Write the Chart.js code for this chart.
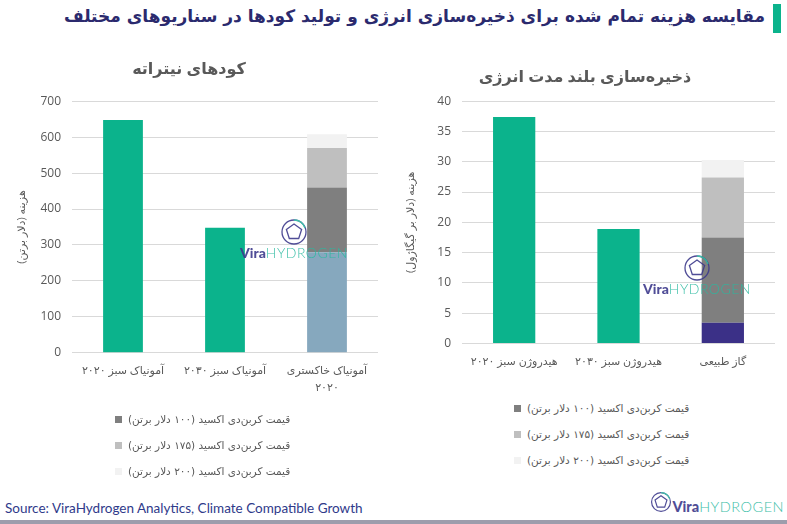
<!DOCTYPE html>
<html lang="fa">
<head>
<meta charset="utf-8">
<script src="https://cdn.jsdelivr.net/npm/chart.js@4.4.1/dist/chart.umd.min.js"></script>
<style>
  body { margin: 0; width: 787px; height: 524px; background: #fff; position: relative; overflow: hidden; font-family: 'DejaVu Sans', sans-serif; }
  #title { position: absolute; right: 22px; top: 6px; font-size: 17px; font-weight: bold; color: #2b2a6e; white-space: nowrap; }
  #accent { position: absolute; left: 773px; top: 4px; width: 8px; height: 29px; background: #0bb38c; }
  .wrap { position: absolute; }
  .legend { position: absolute; font-size: 10.5px; color: #595959; }
  .lg-row { display: flex; align-items: center; height: 26px; }
  .lg-box { width: 7px; height: 7px; margin-right: 6px; display: inline-block; }
  .mark { position: absolute; display: flex; flex-direction: column; align-items: center; opacity: 0.9; }
  .mark .txt { font-family: 'Lato', sans-serif; font-size: 14px; line-height: 14px; white-space: nowrap; }
  .mark b { color: #3d3a8c; font-weight: 900; }
  .mark span.h { color: #2bb9a0; font-weight: 300; letter-spacing: 0.5px; }
  #source { position: absolute; left: 5px; top: 500px; font-family: 'Lato', sans-serif; font-size: 13.5px; color: #2f3a8a; }
  #bottomLine { position: absolute; left: 0; top: 520px; width: 787px; height: 4px; background: #9d9dac; }
</style>
</head>
<body>
<div id="title" dir="rtl">مقایسه هزینه تمام شده برای ذخیره‌سازی انرژی و تولید کودها در سناریوهای مختلف</div>
<div id="accent"></div>

<div class="wrap" style="left:0;top:45px;width:385px;height:364px"><canvas id="fertChart" width="385" height="364"></canvas></div>
<div class="wrap" style="left:395px;top:45px;width:392px;height:341px"><canvas id="storageChart" width="392" height="341"></canvas></div>

<div class="legend" id="fertLegend" style="left:115px;top:406px"></div>
<div class="legend" id="storageLegend" style="left:514px;top:395px"></div>

<div class="mark" style="left:240px;top:218px">
  <svg width="28" height="28" viewBox="0 0 28 28"><g fill="none" stroke-width="1.3"><circle cx="14" cy="14" r="12" stroke="#3d3a8c"/><polygon points="14,6 21.6,11.5 18.7,20.5 9.3,20.5 6.4,11.5" stroke="#3d3a8c"/><path d="M14 2 A12 12 0 0 1 25 10" stroke="#2bb9a0"/></g></svg>
  <div class="txt"><b>Vira</b><span class="h">HYDROGEN</span></div>
</div>
<div class="mark" style="left:643px;top:254px">
  <svg width="28" height="28" viewBox="0 0 28 28"><g fill="none" stroke-width="1.3"><circle cx="14" cy="14" r="12" stroke="#3d3a8c"/><polygon points="14,6 21.6,11.5 18.7,20.5 9.3,20.5 6.4,11.5" stroke="#3d3a8c"/><path d="M14 2 A12 12 0 0 1 25 10" stroke="#2bb9a0"/></g></svg>
  <div class="txt"><b>Vira</b><span class="h">HYDROGEN</span></div>
</div>

<div id="source">Source: ViraHydrogen Analytics, Climate Compatible Growth</div>
<div class="mark" style="right:3px;top:490px;flex-direction:row;align-items:flex-end">
  <svg width="22" height="24" viewBox="0 0 28 28"><g fill="none" stroke-width="1.5"><circle cx="14" cy="14" r="12" stroke="#3d3a8c"/><polygon points="14,6 21.6,11.5 18.7,20.5 9.3,20.5 6.4,11.5" stroke="#3d3a8c"/><path d="M14 2 A12 12 0 0 1 25 10" stroke="#2bb9a0"/></g></svg>
  <div class="txt" style="font-size:14.5px"><b>Vira</b><span class="h">HYDROGEN</span></div>
</div>
<div id="bottomLine"></div>

<script>
// --- data: fertilisers (USD per tonne)
const fertCategories = ['آمونیاک سبز ۲۰۲۰', 'آمونیاک سبز ۲۰۳۰', ['آمونیاک خاکستری', '۲۰۲۰']];
const fertBase = [648, 348, 280];
const fertCo2_100 = [null, null, 180];
const fertCo2_175 = [null, null, 110];
const fertCo2_200 = [null, null, 38];
const fertTicks = [0, 700, 100];

// --- data: long duration energy storage (USD per GJ)
const storageCategories = ['هیدروژن سبز ۲۰۲۰', 'هیدروژن سبز ۲۰۳۰', 'گاز طبیعی'];
const storageBase = [37.4, 18.9, 3.4];
const storageCo2_100 = [null, null, 14.1];
const storageCo2_175 = [null, null, 9.9];
const storageCo2_200 = [null, null, 2.9];
const storageTicks = [0, 40, 5];

const co2Labels = [
  'قیمت کربن‌دی اکسید (۱۰۰  دلار برتن)',
  'قیمت کربن‌دی اکسید (۱۷۵  دلار برتن)',
  'قیمت کربن‌دی اکسید (۲۰۰  دلار برتن)'
];

const green = '#0bb38c';
const co2Colors = ['#7f7f7f', '#bfbfbf', '#f2f2f2'];
const textGray = '#595959';
const numFont = "'Open Sans', 'DejaVu Sans', sans-serif";
const RLM = '\u200F';

function makeChart(id, o) {
  return new Chart(document.getElementById(id), {
    type: 'bar',
    data: {
      labels: o.categories,
      datasets: [
        { label: 'base', data: o.base, backgroundColor: o.baseColors },
        { label: co2Labels[0], data: o.c1, backgroundColor: co2Colors[0] },
        { label: co2Labels[1], data: o.c2, backgroundColor: co2Colors[1] },
        { label: co2Labels[2], data: o.c3, backgroundColor: co2Colors[2] },
      ].map(d => Object.assign(d, { barPercentage: o.barPct, categoryPercentage: 1 })),
    },
    options: {
      responsive: false,
      animation: false,
      layout: { padding: o.padding },
      plugins: {
        legend: { display: false },
        tooltip: { enabled: false },
        title: {
          display: true,
          text: o.title,
          color: textGray,
          font: { family: numFont, size: 16 },
          padding: o.titlePad,
        },
      },
      scales: {
        x: {
          stacked: true,
          grid: { display: false, drawTicks: false },
          border: { display: false },
          ticks: { color: textGray, padding: o.xPad, maxRotation: 0, autoSkip: false, font: { family: numFont, size: 11, lineHeight: 1.6 } },
        },
        y: {
          stacked: true,
          min: o.ticks[0],
          max: o.ticks[1],
          grid: { color: '#d9d9d9', drawTicks: false },
          border: { display: false },
          ticks: { stepSize: o.ticks[2], color: textGray, padding: 11, font: { family: numFont, size: 12 } },
          title: { display: true, text: RLM + o.yTitle + RLM, color: textGray, font: { family: numFont, size: 11 }, padding: { top: o.yTitlePad, bottom: 4 } },
          afterFit: s => { s.width = o.yWidth; },
        },
      },
    },
  });
}

const fertChart = makeChart('fertChart', {
  categories: fertCategories, base: fertBase, c1: fertCo2_100, c2: fertCo2_175, c3: fertCo2_200,
  baseColors: [green, green, '#86a8be'], ticks: fertTicks,
  title: 'کودهای نیتراته', yTitle: 'هزینه (دلار برتن)',
  barPct: 0.39, padding: { left: 0, right: 7, top: 0, bottom: 3 },
  titlePad: { top: 15, bottom: 22 }, xPad: 9, yWidth: 72, yTitlePad: 15,
});

const storageChart = makeChart('storageChart', {
  categories: storageCategories, base: storageBase, c1: storageCo2_100, c2: storageCo2_175, c3: storageCo2_200,
  baseColors: [green, green, '#3b3087'], ticks: storageTicks,
  title: 'ذخیره‌سازی بلند مدت انرژی', yTitle: 'هزینه (دلار بر گیگاژول)',
  barPct: 0.405, padding: { left: 0, right: 12, top: 0, bottom: 5 },
  titlePad: { top: 23, bottom: 14 }, xPad: 10, yWidth: 67, yTitlePad: 9,
});

function buildLegend(el, chart) {
  chart.data.datasets.slice(1).forEach(ds => {
    const row = document.createElement('div');
    row.className = 'lg-row';
    const box = document.createElement('span');
    box.className = 'lg-box';
    box.style.background = ds.backgroundColor;
    const txt = document.createElement('span');
    txt.dir = 'rtl';
    txt.textContent = ds.label;
    row.append(box, txt);
    el.append(row);
  });
}
buildLegend(document.getElementById('fertLegend'), fertChart);
buildLegend(document.getElementById('storageLegend'), storageChart);
</script>
</body>
</html>
